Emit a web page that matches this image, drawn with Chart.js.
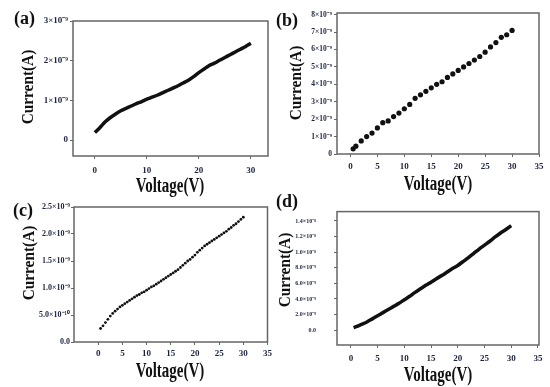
<!DOCTYPE html>
<html>
<head>
<meta charset="utf-8">
<script src="https://cdn.jsdelivr.net/npm/chart.js@4.4.1/dist/chart.umd.min.js"></script>
<style>
body{margin:0;width:550px;height:387px;background:#fff;position:relative;overflow:hidden;font-family:"Liberation Serif",serif;}
canvas{position:absolute}
.lbl{position:absolute;font-weight:bold;color:#111;white-space:nowrap;line-height:1}
.panel{font-size:18px}
.xt{font-size:20px;transform:translate(-50%,-50%) scaleX(0.75)}
.yt{font-size:17px;transform:translate(-50%,-50%) rotate(-90deg) scaleX(0.9)}
</style>
</head>
<body>
<canvas id="ca" style="left:0;top:0" width="275" height="178"></canvas>
<canvas id="cb" style="left:275px;top:0" width="275" height="172"></canvas>
<canvas id="cc" style="left:0;top:190px" width="275" height="172"></canvas>
<canvas id="cd" style="left:275px;top:190px" width="275" height="177"></canvas>

<div class="lbl panel" style="left:14px;top:9px">(a)</div>
<div class="lbl panel" style="left:276px;top:11px">(b)</div>
<div class="lbl panel" style="left:13px;top:201px">(c)</div>
<div class="lbl panel" style="left:276px;top:192px">(d)</div>

<div class="lbl xt" style="left:170px;top:185px">Voltage(V)</div>
<div class="lbl xt" style="left:438px;top:183px">Voltage(V)</div>
<div class="lbl xt" style="left:170px;top:370px">Voltage(V)</div>
<div class="lbl xt" style="left:438px;top:374px">Voltage(V)</div>

<div class="lbl yt" style="left:27px;top:87px">Current(A)</div>
<div class="lbl yt" style="left:295px;top:83px">Current(A)</div>
<div class="lbl yt" style="left:28px;top:263px">Current(A)</div>
<div class="lbl yt" style="left:284px;top:270px">Current(A)</div>

<script>
// (a) voltage in V, current in units of 1e-9 A
const aVoltage = [0,1,2,3,4,5,6,7,8,9,10,11,12,13,14,15,16,17,18,19,20,21,22,23,24,25,26,27,28,29,30];
const aCurrent = [0.19,0.32,0.46,0.57,0.66,0.74,0.80,0.86,0.92,0.97,1.03,1.08,1.13,1.19,1.25,1.31,1.37,1.44,1.51,1.60,1.70,1.79,1.88,1.94,2.01,2.08,2.15,2.22,2.29,2.36,2.44];
const aXTicks = [0,10,20,30];
const aYTicks = [0,1,2,3];
const aYLabels = ["0","1×10⁻⁹","2×10⁻⁹","3×10⁻⁹"];

// (b)
const bVoltage = [0.5,1,2,3,4,5,6,7,8,9,10,11,12,13,14,15,16,17,18,19,20,21,22,23,24,25,26,27,28,29,30];
const bCurrent = [0.3,0.45,0.75,1.0,1.2,1.5,1.8,1.9,2.15,2.35,2.6,2.85,3.2,3.4,3.6,3.8,4.0,4.15,4.4,4.6,4.8,5.0,5.2,5.4,5.6,5.85,6.15,6.4,6.7,6.85,7.1];
const bXTicks = [0,5,10,15,20,25,30,35];
const bYTicks = [0,1,2,3,4,5,6,7,8];
const bYLabels = ["0","1×10⁻⁹","2×10⁻⁹","3×10⁻⁹","4×10⁻⁹","5×10⁻⁹","6×10⁻⁹","7×10⁻⁹","8×10⁻⁹"];

// (c)
const cVoltage = [0.5,1,1.5,2,2.5,3,3.5,4,4.5,5,5.5,6,6.5,7,7.5,8,8.5,9,9.5,10,10.5,11,11.5,12,12.5,13,13.5,14,14.5,15,15.5,16,16.5,17,17.5,18,18.5,19,19.5,20,20.5,21,21.5,22,22.5,23,23.5,24,24.5,25,25.5,26,26.5,27,27.5,28,28.5,29,29.5,30];
const cCurrent = [0.25,0.30,0.36,0.42,0.48,0.53,0.57,0.61,0.65,0.68,0.71,0.74,0.77,0.80,0.83,0.86,0.88,0.91,0.93,0.96,0.99,1.02,1.04,1.07,1.10,1.13,1.16,1.19,1.22,1.25,1.28,1.31,1.34,1.38,1.42,1.46,1.50,1.53,1.57,1.61,1.66,1.70,1.74,1.78,1.81,1.84,1.87,1.90,1.93,1.96,1.99,2.02,2.05,2.09,2.12,2.16,2.19,2.23,2.27,2.31];
const cXTicks = [0,5,10,15,20,25,30,35];
const cYTicks = [0,0.5,1,1.5,2,2.5];
const cYLabels = ["0.0","5.0×10⁻¹⁰","1.0×10⁻⁹","1.5×10⁻⁹","2.0×10⁻⁹","2.5×10⁻⁹"];

// (d)
const dVoltage = [0.5,1,2,3,4,5,6,7,8,9,10,11,12,13,14,15,16,17,18,19,20,21,22,23,24,25,26,27,28,29,30];
const dCurrent = [0.33,0.45,0.75,1.05,1.45,1.85,2.25,2.65,3.05,3.45,3.9,4.35,4.85,5.3,5.75,6.15,6.6,7.0,7.45,7.9,8.3,8.8,9.3,9.85,10.4,10.9,11.4,11.95,12.45,12.9,13.4];
const dXTicks = [0,5,10,15,20,25,30,35];
const dYTicks = [0,2,4,6,8,10,12,14];
const dYLabels = ["0.0","2.0×10⁻⁹","4.0×10⁻⁹","6.0×10⁻⁹","8.0×10⁻⁹","1.0×10⁻⁸","1.2×10⁻⁸","1.4×10⁻⁸"];

const tickColor = '#1c2340';

const frame = {
    id:'frame',
    beforeDatasetsDraw(chart){
        const a = chart.chartArea, c = chart.ctx;
        c.save();
        c.strokeStyle = '#666';
        c.lineWidth = 1.5;
        c.strokeRect(a.left, a.top, a.right - a.left, a.bottom - a.top);
        c.restore();
    }
};

function makePanel(id, xs, ys, p){
    const points = xs.map((x, i) => ({x: x, y: ys[i]}));
    const font = {family:'"Liberation Serif", serif', size: p.fs, weight:'bold'};
    return new Chart(id, {
        type: 'scatter',
        data: {datasets: [{
            data: points,
            showLine: p.line,
            borderColor: '#111',
            backgroundColor: '#111',
            borderWidth: p.lineWidth,
            pointRadius: p.radius,
            pointBorderWidth: 0,
            tension: 0.3
        }]},
        options: {
            responsive: false,
            animation: false,
            layout: {padding: {top: p.top, right: p.right, left: 0, bottom: 0}},
            plugins: {legend: {display: false}, tooltip: {enabled: false}},
            scales: {
                x: {
                    type: 'linear', min: p.xMin, max: p.xMax,
                    afterBuildTicks: s => { s.ticks = p.xTicks.map(v => ({value: v})); },
                    afterFit: s => { s.height = p.xh; },
                    grid: {drawOnChartArea: false, tickLength: 3, color: '#666'},
                    border: {display: false},
                    ticks: {font: {...font, size: 9}, color: tickColor, padding: p.xPad, maxRotation: 0,
                        callback: v => String(v)}
                },
                y: {
                    type: 'linear', min: p.yMin, max: p.yMax,
                    afterBuildTicks: s => { s.ticks = p.yTicks.map(v => ({value: v})); },
                    afterFit: s => { s.width = p.yw; },
                    grid: {drawOnChartArea: false, tickLength: 3, color: '#666'},
                    border: {display: false},
                    ticks: {font: font, color: tickColor, padding: p.yPad,
                        callback: (v, i) => p.yLabels[i]}
                }
            }
        },
        plugins: [frame]
    });
}

makePanel('ca', aVoltage, aCurrent, {
    line: true, lineWidth: 3.5, radius: 0, fs: 9,
    xMin: -4.2, xMax: 33.3, yMin: -0.4, yMax: 3.0,
    xTicks: aXTicks, yTicks: aYTicks, yLabels: aYLabels,
    top: 21, right: 7, yw: 73, xh: 22, xPad: 6, yPad: 2
});
makePanel('cb', bVoltage, bCurrent, {
    line: false, lineWidth: 0, radius: 2.6, fs: 7.5,
    xMin: -2.5, xMax: 35, yMin: 0, yMax: 8.1,
    xTicks: bXTicks, yTicks: bYTicks, yLabels: bYLabels,
    top: 13, right: 11, yw: 62, xh: 18, xPad: 4, yPad: 2
});
makePanel('cc', cVoltage, cCurrent, {
    line: false, lineWidth: 0, radius: 1.4, fs: 8,
    xMin: -5, xMax: 35, yMin: 0, yMax: 2.5,
    xTicks: cXTicks, yTicks: cYTicks, yLabels: cYLabels,
    top: 17, right: 7, yw: 74, xh: 20, xPad: 3, yPad: 1
});
makePanel('cd', dVoltage, dCurrent, {
    line: true, lineWidth: 3.5, radius: 0, fs: 6,
    xMin: -2.6, xMax: 35.2, yMin: -1.9, yMax: 15.2,
    xTicks: dXTicks, yTicks: dYTicks, yLabels: dYLabels,
    top: 17, right: 11, yw: 62, xh: 22, xPad: 5, yPad: 18
});
</script>
</body>
</html>
